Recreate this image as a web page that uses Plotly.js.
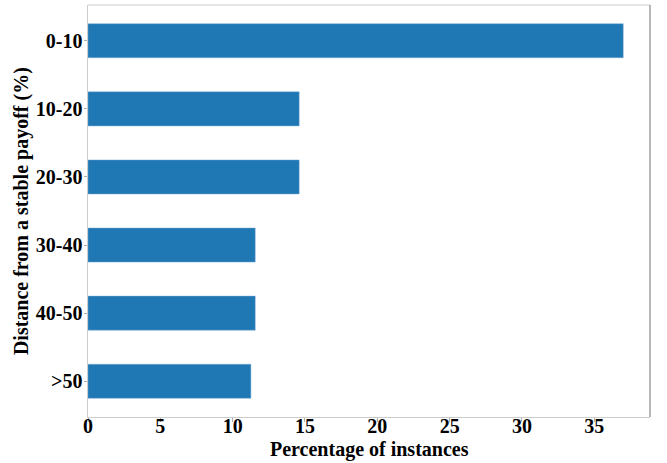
<!DOCTYPE html>
<html>
<head>
<meta charset="utf-8">
<script src="https://cdn.plot.ly/plotly-3.0.1.min.js"></script>
<style>html,body{margin:0;padding:0;background:#fff;}#chart{width:667px;height:463px;}</style>
</head>
<body>
<div id="chart"></div>
<script>
const categories = ["0-10", "10-20", "20-30", "30-40", "40-50", ">50"];
const percentages = [37.0, 14.6, 14.6, 11.56, 11.56, 11.26];
const xTicks = [0, 5, 10, 15, 20, 25, 30, 35];
const xTitle = "Percentage of instances";
const yTitle = "Distance from a stable payoff (%)";

const fam = "Liberation Serif, Times New Roman, serif";
const tickFont = {family: fam, size: 20, color: "#000", weight: "bold"};

const trace = {
  type: "bar",
  orientation: "h",
  y: categories,
  x: percentages,
  width: 0.5,
  marker: {color: "#1f77b4", line: {color: "rgba(120,170,210,0.6)", width: 0.8}},
  hoverinfo: "x+y"
};

const layout = {
  width: 667, height: 463,
  margin: {l: 87.5, r: 16.7, t: 4.5, b: 46.3},
  paper_bgcolor: "#fff", plot_bgcolor: "#fff",
  showlegend: false,
  font: {family: fam, size: 20, color: "#000"},
  xaxis: {
    range: [0, 38.85],
    tickvals: xTicks,
    ticktext: xTicks.map(String),
    ticks: "outside", ticklen: 3.5, tickcolor: "#999", tickwidth: 0.8,
    ticklabelposition: "outside",
    ticklabelstandoff: -13,
    showgrid: false, zeroline: false,
    showline: true, linecolor: "#cccccc", linewidth: 1,
    tickfont: tickFont,
    automargin: false
  },
  yaxis: {
    type: "category",
    categoryorder: "array",
    categoryarray: categories,
    range: [5.525, -0.525],
    ticks: "outside", ticklen: 3.5, tickcolor: "#999", tickwidth: 0.8,
    ticklabelstandoff: -3,
    showgrid: false, zeroline: false,
    showline: true, linecolor: "#cccccc", linewidth: 1,
    tickfont: tickFont,
    automargin: false
  },
  annotations: [
    {text: "<b>" + xTitle + "</b>", xref: "paper", yref: "paper", x: 0.5, y: -0.08,
     xanchor: "center", yanchor: "middle", showarrow: false, font: {family: fam, size: 20, color: "#000"}},
    {text: "<b>" + yTitle + "</b>", xref: "paper", yref: "paper", x: -0.119, y: 0.5,
     xanchor: "center", yanchor: "middle", textangle: -90, showarrow: false, font: {family: fam, size: 20, color: "#000"}}
  ],
  shapes: [
    {type: "line", xref: "paper", yref: "paper", x0: 0, x1: 1, y0: 1, y1: 1, line: {color: "#cccccc", width: 1.2}},
    {type: "line", xref: "paper", yref: "paper", x0: 1, x1: 1, y0: 0, y1: 1, line: {color: "#888888", width: 1.2}}
  ]
};

Plotly.newPlot("chart", [trace], layout, {displayModeBar: false, staticPlot: true});
</script>
</body>
</html>
